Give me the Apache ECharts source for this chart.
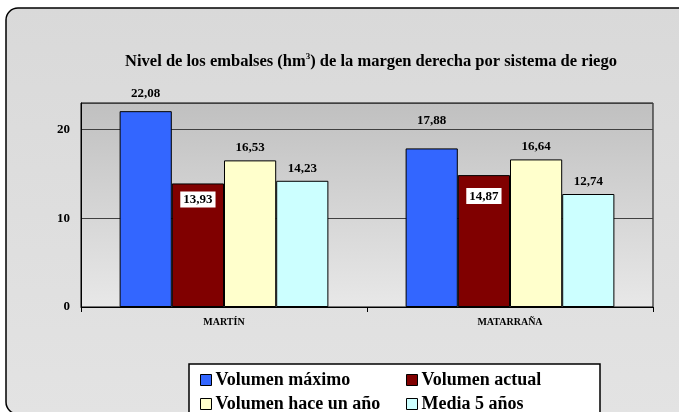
<!DOCTYPE html>
<html>
<head>
<meta charset="utf-8">
<script src="https://cdn.jsdelivr.net/npm/echarts@6/dist/echarts.min.js"></script>
<style>html,body{margin:0;padding:0;background:#fff}#c{width:679px;height:412px}</style>
</head>
<body>
<div id="c"></div>
<script>
const categories = ['MARTÍN', 'MATARRAÑA'];
const seriesNames = ['Volumen máximo', 'Volumen actual', 'Volumen hace un año', 'Media 5 años'];
const volumenMaximo = [22.08, 17.88];
const volumenActual = [13.93, 14.87];
const volumenHaceUnAno = [16.53, 16.64];
const media5Anos = [14.23, 12.74];
const yTicks = [0, 10, 20];

const FONT = '"Liberation Serif", "Times New Roman", serif';
const colors = ['#3366FF', '#800000', '#FFFFCC', '#CCFFFF'];
const values = [volumenMaximo, volumenActual, volumenHaceUnAno, media5Anos];
// label placement tweaks (style only)
const maxLift = [-5, -15];
const actualDrop = [0, 5];

const fmt = v => v.toFixed(2).replace('.', ',');

const series = values.map((arr, i) => ({
  name: seriesNames[i],
  type: 'bar',
  barGap: '0%',
  barCategoryGap: '27%',
  itemStyle: { color: colors[i], borderColor: '#000', borderWidth: 1 },
  label: {
    show: true,
    position: i === 1 ? 'insideTop' : 'top',
    distance: i === 1 ? 8 : 6,
    formatter: p => fmt(p.value),
    fontFamily: FONT, fontWeight: 'bold', fontSize: 13, color: '#000',
    backgroundColor: i === 1 ? '#fff' : 'transparent',
    padding: i === 1 ? [2, 3, 1, 3] : 0
  },
  data: arr.map((v, j) => {
    if (i === 0) return { value: v, label: { offset: [0, maxLift[j]] } };
    if (i === 1) return { value: v, label: { offset: [0, actualDrop[j]] } };
    return v;
  })
}));

const legendBase = {
  orient: 'horizontal', icon: 'rect', itemWidth: 11, itemHeight: 11, itemGap: 0,
  textStyle: { fontFamily: FONT, fontWeight: 'bold', fontSize: 18, color: '#000', padding: [0, 0, 0, -1] },
  itemStyle: { borderColor: '#000', borderWidth: 1 }
};
const legendPos = [[195, 366], [401, 366], [195, 390], [401, 390]];
const legendOrder = [0, 1, 2, 3];

const chart = echarts.init(document.getElementById('c'));
chart.setOption({
  backgroundColor: '#fff',
  animation: false,
  graphic: [
    {
      type: 'rect', z: -100, silent: true,
      shape: { x: 6, y: 8, width: 720, height: 406, r: 12 },
      style: {
        fill: { type: 'linear', x: 0, y: 0, x2: 0, y2: 1, colorStops: [{ offset: 0, color: '#d9d9d9' }, { offset: 1, color: '#e3e3e3' }] },
        stroke: '#000', lineWidth: 1.5
      }
    },
    {
      type: 'rect', z: 1, silent: true,
      shape: { x: 189, y: 364, width: 411, height: 60 },
      style: { fill: '#fff', stroke: '#000', lineWidth: 1.5 }
    }
  ],
  title: {
    text: '{t|Nivel de los embalses (hm}{s|3}{t|) de la margen derecha por sistema de riego}',
    left: 366, top: 47, textAlign: 'center',
    textStyle: {
      rich: {
        t: { fontFamily: FONT, fontWeight: 'bold', fontSize: 16.5, color: '#000' },
        s: { fontFamily: FONT, fontWeight: 'bold', fontSize: 9, color: '#000', padding: [0, 0, 10, 0] }
      }
    }
  },
  legend: legendOrder.map(k => Object.assign({}, legendBase, {
    left: legendPos[k][0], top: legendPos[k][1], data: [seriesNames[k]]
  })),
  grid: {
    left: 81, top: 103, right: 26, bottom: 105,
    show: true,
    backgroundColor: { type: 'linear', x: 0, y: 0, x2: 0, y2: 1, colorStops: [{ offset: 0, color: '#c0c0c0' }, { offset: 1, color: '#e8e8e8' }] },
    borderColor: '#000', borderWidth: 1
  },
  xAxis: {
    type: 'category', data: categories,
    axisLine: { lineStyle: { color: '#000', width: 1 } },
    axisTick: { show: true, length: 5, lineStyle: { color: '#000' } },
    axisLabel: { fontFamily: FONT, fontWeight: 'bold', fontSize: 10, color: '#000', margin: 10 }
  },
  yAxis: {
    type: 'value', min: 0, max: 23, interval: 10,
    axisLine: { show: true, lineStyle: { color: '#000', width: 1 } },
    axisTick: { show: false },
    splitLine: { lineStyle: { color: '#404040', width: 1 } },
    axisLabel: {
      fontFamily: FONT, fontWeight: 'bold', fontSize: 13, color: '#000', margin: 11,
      formatter: v => (yTicks.indexOf(v) >= 0 ? String(v) : '')
    }
  },
  series: series
});
</script>
</body>
</html>
